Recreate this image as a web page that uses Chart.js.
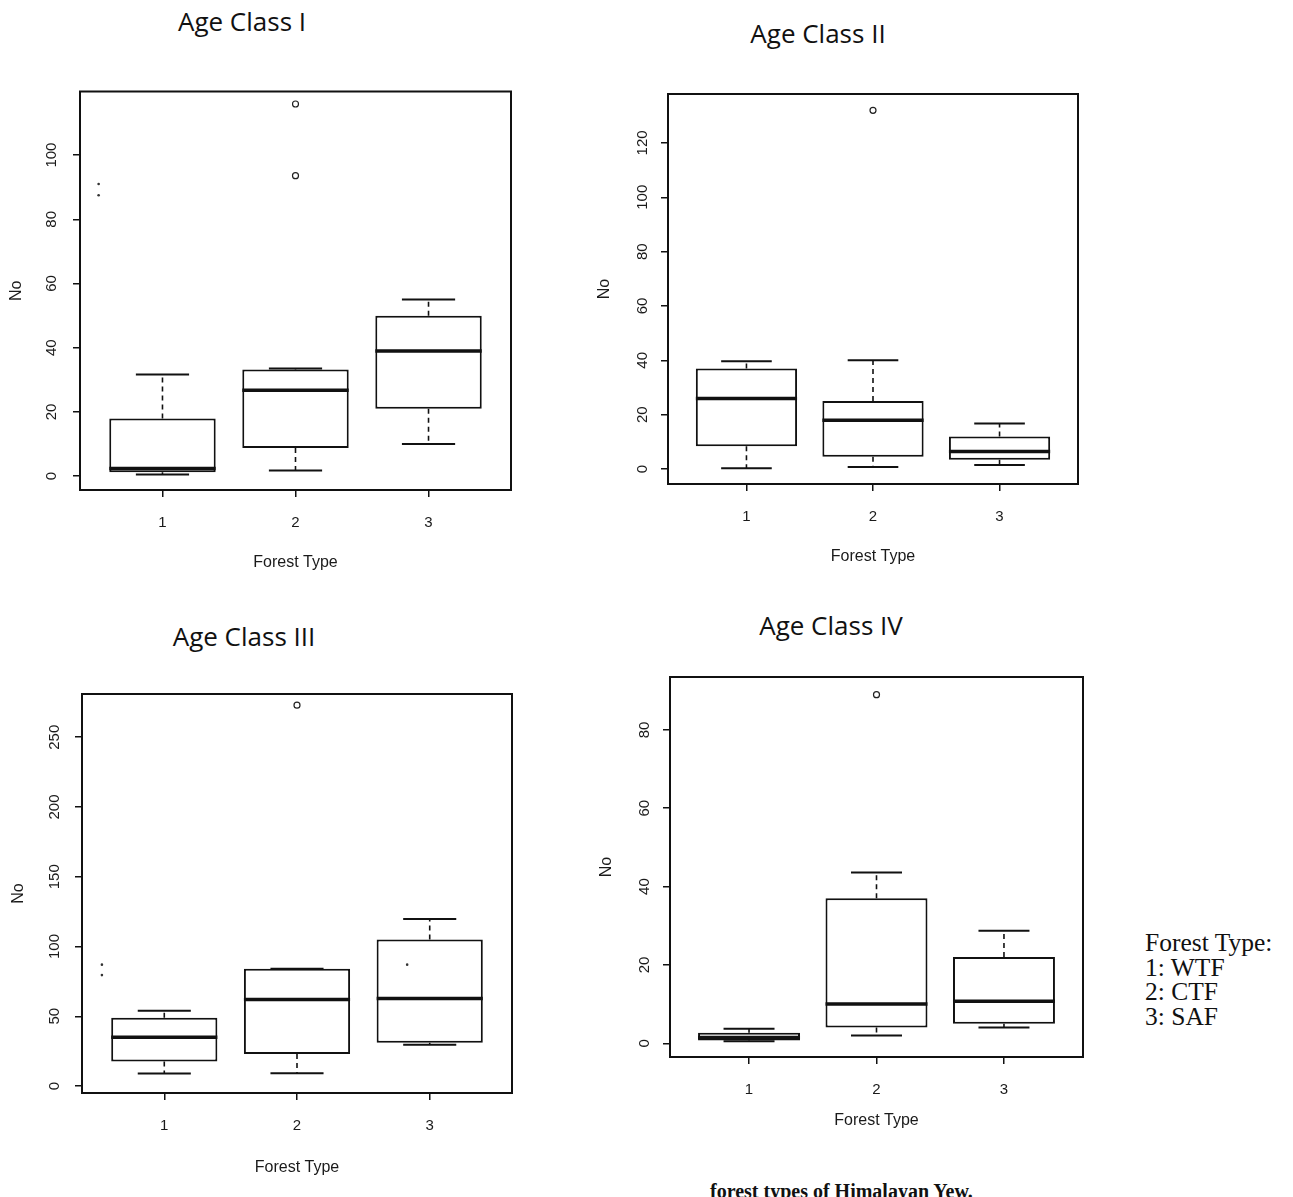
<!DOCTYPE html>
<html>
<head>
<meta charset="utf-8">
<script src="https://cdn.jsdelivr.net/npm/chart.js@4.4.1/dist/chart.umd.min.js"></script>
<style>
  body { margin: 0; background: #fff; width: 1293px; height: 1197px; overflow: hidden; position: relative; }
  .panel { position: absolute; }
  .title { position: absolute; font-family: "Open Sans", sans-serif; font-size: 26px; color: #111; transform: translate(-50%, -50%); white-space: nowrap; }
  .legend { position: absolute; left: 1145px; top: 931px; font-family: "Liberation Serif", serif; font-size: 25.5px; line-height: 24.5px; color: #111; }
  .caption { position: absolute; left: 710px; top: 1181px; font-family: "Liberation Serif", serif; font-weight: bold; font-size: 20px; line-height: 20px; color: #111; white-space: nowrap; }
</style>
</head>
<body>
<div class="title" style="left:242px;top:21px">Age Class I</div>
<div class="title" style="left:818px;top:33px">Age Class II</div>
<div class="title" style="left:244px;top:636px">Age Class III</div>
<div class="title" style="left:831px;top:625px">Age Class IV</div>
<div class="legend">Forest Type:<br>1: WTF<br>2: CTF<br>3: SAF</div>
<div class="caption">forest types of Himalayan Yew.</div>

<script>
// forest types on the x axis
const xTicks = [1, 2, 3];

// Age Class I
const age1Min = [0.5, 1.8, 10];
const age1Q1 = [1.2, 8.8, 21];
const age1Median = [2.4, 26.8, 39];
const age1Q3 = [18, 33.2, 50];
const age1Max = [31.7, 33.5, 55];
const age1OutX = [2, 2];
const age1OutY = [115.9, 93.6];
const age1DotX = [0.52, 0.52];
const age1DotY = [91, 87.5];
const age1YTicks = [0, 20, 40, 60, 80, 100];

// Age Class II
const age2Min = [0.3, 0.8, 1.5];
const age2Q1 = [8.4, 4.5, 3.4];
const age2Median = [26, 18, 6.5];
const age2Q3 = [37, 25, 12];
const age2Max = [39.7, 40, 16.8];
const age2OutX = [2];
const age2OutY = [132];
const age2DotX = [];
const age2DotY = [];
const age2YTicks = [0, 20, 40, 60, 80, 100, 120];

// Age Class III
const age3Min = [9, 9.2, 29.5];
const age3Q1 = [17.6, 23, 31];
const age3Median = [35, 62, 62.7];
const age3Q3 = [49, 84, 105];
const age3Max = [54, 84, 119.7];
const age3OutX = [2];
const age3OutY = [273];
const age3DotX = [0.53, 0.53, 2.83];
const age3DotY = [87, 79.5, 87];
const age3YTicks = [0, 50, 100, 150, 200, 250];

// Age Class IV
const age4Min = [0.5, 2, 4];
const age4Q1 = [0.7, 4, 5];
const age4Median = [1.5, 10, 10.7];
const age4Q3 = [2.7, 37, 22];
const age4Max = [3.7, 43.6, 28.7];
const age4OutX = [2];
const age4OutY = [89];
const age4DotX = [];
const age4DotY = [];
const age4YTicks = [0, 20, 40, 60, 80];

Chart.defaults.font.family = '"Liberation Sans", Arial, sans-serif';
Chart.defaults.color = '#1a1a1a';
Chart.defaults.animation = false;

// draws the plot frame (R's bty="o")
const framePlugin = {
  id: 'frame',
  afterDraw(chart) {
    const a = chart.chartArea, ctx = chart.ctx;
    ctx.save();
    ctx.strokeStyle = '#111';
    ctx.lineWidth = 2;
    ctx.strokeRect(a.left, a.top, a.right - a.left, a.bottom - a.top);
    ctx.restore();
  }
};

function segments(pairs) {
  // pairs of [x0, y0, x1, y1] joined by gaps
  const out = [];
  pairs.forEach(p => { out.push({x: p[0], y: p[1]}, {x: p[2], y: p[3]}, {x: p[0], y: null}); });
  return out;
}

function makePanel(area, yMin, yMax, yTicks, tickPad, xTitlePad, s) {
  const left = area.l - 80, top = area.t - 10;
  const w = area.r - left + 10, h = area.b - top + 90;
  const div = document.createElement('div');
  div.className = 'panel';
  div.style.left = left + 'px';
  div.style.top = top + 'px';
  const canvas = document.createElement('canvas');
  canvas.width = w;
  canvas.height = h;
  div.appendChild(canvas);
  document.body.appendChild(div);

  const boxes = xTicks.map((x, i) => ({x: x, y: [s.q1[i], s.q3[i]]}));
  const whiskers = segments(xTicks.flatMap((x, i) => [
    [x, s.q3[i], x, s.max[i]], [x, s.q1[i], x, s.min[i]]
  ]));
  const caps = segments(xTicks.flatMap((x, i) => [
    [x - 0.2, s.max[i], x + 0.2, s.max[i]], [x - 0.2, s.min[i], x + 0.2, s.min[i]]
  ]));
  const medians = segments(xTicks.map((x, i) => [x - 0.4, s.med[i], x + 0.4, s.med[i]]));
  const outliers = s.outX.map((x, i) => ({x: x, y: s.outY[i]}));
  const dots = s.dotX.map((x, i) => ({x: x, y: s.dotY[i]}));

  new Chart(canvas, {
    type: 'bar',
    data: {
      datasets: [
        {type: 'line', data: medians, borderColor: '#111', borderWidth: 3.5, pointRadius: 0, spanGaps: false, borderCapStyle: 'butt'},
        {type: 'line', data: caps, borderColor: '#111', borderWidth: 2, pointRadius: 0, spanGaps: false},
        {type: 'line', data: whiskers, borderColor: '#111', borderWidth: 1.6, borderDash: [5, 4], pointRadius: 0, spanGaps: false},
        {type: 'scatter', data: outliers, pointRadius: 3, pointBorderWidth: 1.2, pointBorderColor: '#222', pointBackgroundColor: '#fff'},
        {type: 'scatter', data: dots, pointRadius: 1.3, pointBorderWidth: 0, pointBackgroundColor: '#333'},
        {type: 'bar', data: boxes, backgroundColor: '#fff', borderColor: '#111', borderWidth: 2,
         borderSkipped: false, categoryPercentage: 1, barPercentage: 0.8}
      ]
    },
    options: {
      responsive: false,
      devicePixelRatio: 1,
      events: [],
      layout: {padding: {top: 10, right: 10, left: 0, bottom: 0}},
      plugins: {legend: {display: false}, tooltip: {enabled: false}},
      scales: {
        x: {
          type: 'linear',
          min: 0.38,
          max: 3.62,
          offset: false,
          afterFit: sc => { sc.height = 90; },
          afterBuildTicks: sc => { sc.ticks = xTicks.map(v => ({value: v})); },
          grid: {display: true, offset: false, drawOnChartArea: false, drawTicks: true, tickLength: 7, color: '#111', lineWidth: 1.5},
          border: {display: false},
          ticks: {font: {size: 15}, padding: 17, autoSkip: false, callback: v => String(v)},
          title: {display: true, text: 'Forest Type', font: {size: 16}, padding: {bottom: xTitlePad}}
        },
        y: {
          type: 'linear',
          min: yMin,
          max: yMax,
          afterFit: sc => { sc.width = 80; },
          afterBuildTicks: sc => { sc.ticks = yTicks.map(v => ({value: v})); },
          grid: {display: true, drawOnChartArea: false, drawTicks: true, tickLength: 7, color: '#111', lineWidth: 1.5},
          border: {display: false},
          ticks: {font: {size: 15}, minRotation: 90, maxRotation: 90, crossAlign: 'center', padding: tickPad, autoSkip: false, callback: v => String(v)},
          title: {display: true, text: 'No', font: {size: 16}, padding: {top: 7}}
        }
      }
    },
    plugins: [framePlugin]
  });
}

makePanel({l: 80, t: 84, r: 511, b: 490}, -4.3, 119.8, age1YTicks, 8.5, 8,
  {min: age1Min, q1: age1Q1, med: age1Median, q3: age1Q3, max: age1Max, outX: age1OutX, outY: age1OutY, dotX: age1DotX, dotY: age1DotY});
makePanel({l: 668, t: 89, r: 1078, b: 484}, -5.5, 138, age2YTicks, 6, 8,
  {min: age2Min, q1: age2Q1, med: age2Median, q3: age2Q3, max: age2Max, outX: age2OutX, outY: age2OutY, dotX: age2DotX, dotY: age2DotY});
makePanel({l: 82, t: 687, r: 512, b: 1093}, -5, 281, age3YTicks, 8, 6,
  {min: age3Min, q1: age3Q1, med: age3Median, q3: age3Q3, max: age3Max, outX: age3OutX, outY: age3OutY, dotX: age3DotX, dotY: age3DotY});
makePanel({l: 670, t: 668, r: 1083, b: 1057}, -3.5, 93.5, age4YTicks, 10, 17,
  {min: age4Min, q1: age4Q1, med: age4Median, q3: age4Q3, max: age4Max, outX: age4OutX, outY: age4OutY, dotX: age4DotX, dotY: age4DotY});
</script>
</body>
</html>
